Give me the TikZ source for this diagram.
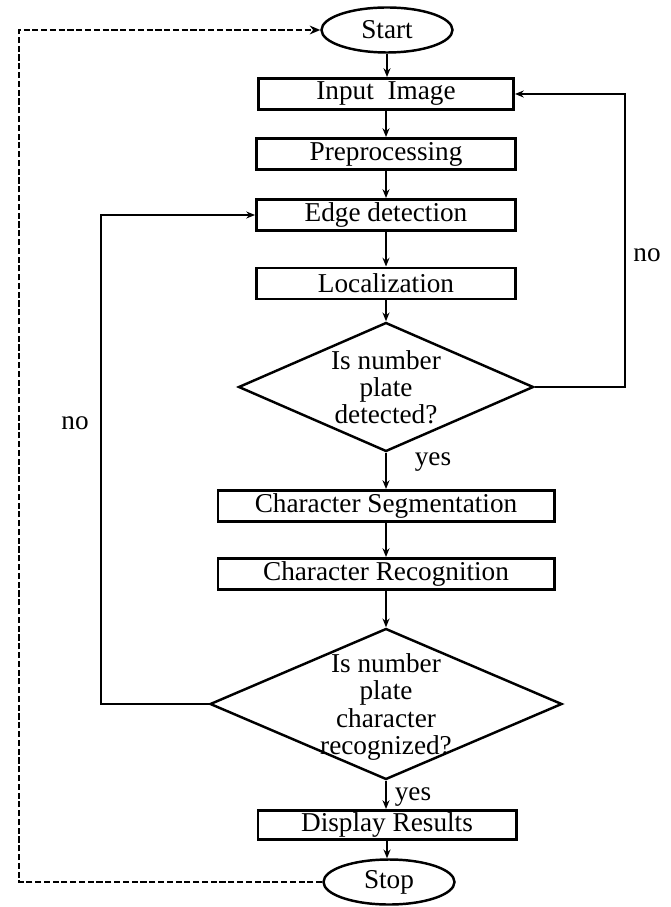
\documentclass[tikz,border=0pt]{standalone}
\usepackage{fontspec}
\setmainfont{Liberation Serif}
\usetikzlibrary{shapes.geometric,arrows.meta}

\begin{document}
\begin{tikzpicture}[
  font=\fontsize{15.5}{15.5}\selectfont,
  box/.style={draw,line width=1.7pt,minimum height=0.62cm,inner sep=0pt},
  term/.style={draw,ellipse,line width=1.4pt,minimum width=2.62cm,minimum height=0.9cm,inner sep=0pt},
  decision/.style={draw,diamond,line width=1.4pt,inner sep=0pt},
  arr/.style={line width=0.8pt,-{Stealth[length=5pt,width=4pt]}},
  dasharr/.style={line width=1.6pt,dash pattern=on 3.5pt off 1.5pt,-{Stealth[length=6pt,width=5pt]}}
]
\useasboundingbox (0,0) rectangle (13.4,-18.14);

% main column
\node[term] (start) at (7.74,-0.60) {Start};
\node[box,minimum width=5.1cm] (input) at (7.72,-1.88) {Input\ \ Image};
\node[box,minimum width=5.18cm] (pre) at (7.72,-3.08) {Preprocessing};
\node[box,minimum width=5.18cm] (edge) at (7.72,-4.30) {Edge detection};
\node[box,minimum width=5.18cm] (loc) at (7.72,-5.67) {Localization};
\node[decision,minimum width=5.9cm,minimum height=2.58cm] (dec1) at (7.72,-7.74) {};
\node[align=center] (dec1txt) at (dec1) {Is number\\plate\\detected?};
\node[box,minimum width=6.72cm] (seg) at (7.72,-10.12) {Character Segmentation};
\node[box,minimum width=6.72cm] (rec) at (7.72,-11.48) {Character Recognition};
\node[decision,minimum width=7.04cm,minimum height=3.02cm] (dec2) at (7.72,-14.08) {};
\node[align=center] (dec2txt) at (7.72,-14.14) {Is number\\plate\\character\\recognized?};
\node[box,minimum width=5.16cm,minimum height=0.58cm] (disp) at (7.74,-16.50) {Display Results};
\node[term] (stop) at (7.78,-17.64) {Stop};

\draw[arr] (start) -- (start |- input.north);
\draw[arr] (input) -- (pre);
\draw[arr] (pre) -- (edge);
\draw[arr] (edge) -- (loc);
\draw[arr] (loc) -- (dec1);
\draw[arr] (dec1) -- (seg);
\draw[arr] (seg) -- (rec);
\draw[arr] (rec) -- (dec2);
\draw[arr] (dec2) -- (dec2 |- disp.north);
\draw[arr] (disp) -- (disp |- stop.north);

% yes / no branches
\node (yes1) at (8.66,-9.24) {yes};
\node (yes2) at (8.26,-15.94) {yes};
\coordinate (rloop) at (12.5,-1.88);
\draw[arr] (dec1.east) -| (rloop) -- (input.east);
\node (no1) at (12.94,-5.10) {no};
\coordinate (lloop) at (2.02,-4.30);
\draw[arr] (dec2.west) -| (lloop) -- (edge.west);
\node (no2) at (1.5,-8.46) {no};

% back to start
\coordinate (dloop) at (0.38,-0.60);
\draw[dasharr] (stop.west) -| (dloop) -- (start.west);
\end{tikzpicture}
\end{document}
